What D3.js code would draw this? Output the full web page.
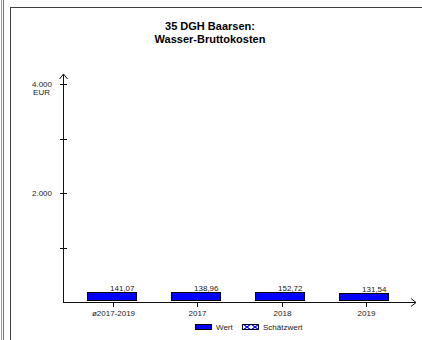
<!DOCTYPE html>
<html><head><meta charset="utf-8">
<script src="https://cdn.jsdelivr.net/npm/d3@7"></script>
<style>
html,body{margin:0;padding:0;background:#fff;}
svg{display:block;font-family:"Liberation Sans",Arial,sans-serif;}
</style></head>
<body>
<svg id="c" width="422" height="340"></svg>
<script>
const titleLines = ["35 DGH Baarsen:", "Wasser-Bruttokosten"];
const categories = ["ø2017-2019", "2017", "2018", "2019"];
const values = [141.07, 138.96, 152.72, 131.54];
const valueLabels = ["141,07", "138,96", "152,72", "131,54"];
const yTicks = [1000, 2000, 3000, 4000];
const yTickLabels = {2000: "2.000", 4000: "4.000"};
const unit = "EUR";
const legendItems = ["Wert", "Schätzwert"];

const svg = d3.select("#c");
const W = 422, H = 340;

// defs: hatch pattern for Schätzwert
const defs = svg.append("defs");
const pat = defs.append("pattern").attr("id","hatch").attr("patternUnits","userSpaceOnUse")
  .attr("width",8).attr("height",6).attr("x",243).attr("y",324);
pat.append("rect").attr("width",8).attr("height",6).attr("fill","#fff");
pat.append("path").attr("d","M0,0L8,6M8,0L0,6").attr("stroke","#0000ff").attr("stroke-width",1.2);

// frame
svg.append("line").attr("x1",1.5).attr("x2",1.5).attr("y1",0).attr("y2",H).attr("stroke","#999");
svg.append("line").attr("x1",3.5).attr("x2",3.5).attr("y1",0).attr("y2",H).attr("stroke","#777");
svg.append("line").attr("x1",10.5).attr("x2",10.5).attr("y1",7.5).attr("y2",H).attr("stroke","#404040");
svg.append("line").attr("x1",10).attr("x2",W).attr("y1",7.5).attr("y2",7.5).attr("stroke","#404040");

// title
svg.append("text").attr("x",210).attr("y",30).attr("text-anchor","middle")
  .attr("font-size",11).attr("font-weight","bold").text(titleLines[0]);
svg.append("text").attr("x",210).attr("y",43).attr("text-anchor","middle")
  .attr("font-size",11).attr("font-weight","bold").text(titleLines[1]);

const x0 = 63, xEnd = 416;
const y = d3.scaleLinear().domain([0,4000]).range([302,84]);
const x = d3.scaleBand().domain(categories).range([71,408]).paddingInner(0.42).paddingOuter(0.21);

const ink = "#111";
// y axis
svg.append("line").attr("x1",x0+0.5).attr("x2",x0+0.5).attr("y1",y(0)).attr("y2",74).attr("stroke",ink);
svg.append("path").attr("d",`M${x0+0.5-4},${79}L${x0+0.5},${74}L${x0+0.5+4},${79}`).attr("fill","none").attr("stroke",ink);
yTicks.forEach(t=>{
  svg.append("line").attr("x1",x0-3).attr("x2",x0+4).attr("y1",Math.round(y(t))+0.5).attr("y2",Math.round(y(t))+0.5).attr("stroke",ink);
  if(yTickLabels[t]) svg.append("text").attr("x",x0-11).attr("y",y(t)+3).attr("text-anchor","end")
    .attr("font-size",8).attr("fill","#222").text(yTickLabels[t]);
});
svg.append("text").attr("x",x0-11-2).attr("y",y(4000)+11).attr("text-anchor","end")
  .attr("font-size",8).attr("fill","#222").text(unit);

// x axis
svg.append("line").attr("x1",x0).attr("x2",xEnd).attr("y1",y(0)+0.5).attr("y2",y(0)+0.5).attr("stroke",ink);
svg.append("path").attr("d",`M${xEnd-5},${y(0)+0.5-4}L${xEnd},${y(0)+0.5}L${xEnd-5},${y(0)+0.5+4}`).attr("fill","none").attr("stroke",ink);
categories.forEach(c=>{
  const cx = Math.round(x(c)+x.bandwidth()/2)+0.5;
  svg.append("line").attr("x1",cx).attr("x2",cx).attr("y1",y(0)).attr("y2",y(0)+5).attr("stroke",ink);
  svg.append("text").attr("x",cx).attr("y",y(0)+14).attr("text-anchor","middle")
    .attr("font-size",8).attr("fill","#222").text(c);
});

// bars
categories.forEach((c,i)=>{
  const bx = Math.round(x(c))-1.5;
  const top = y(values[i]);
  const bottom = y(0)-1.5;
  svg.append("rect").attr("x",bx).attr("y",Math.round(top)-1.5).attr("width",Math.round(x.bandwidth()))
    .attr("height",bottom-(Math.round(top)-1.5)).attr("fill","#0000ff").attr("stroke","#000").attr("stroke-width",1);
  svg.append("text").attr("x",bx+Math.round(x.bandwidth())-2).attr("y",Math.round(top)-3.5).attr("text-anchor","end")
    .attr("font-size",8).attr("fill","#222").text(valueLabels[i]);
});

// legend
const ly = 324;
svg.append("rect").attr("x",195.5).attr("y",ly+0.5).attr("width",16).attr("height",5).attr("fill","#0000ff").attr("stroke","#000");
svg.append("text").attr("x",216).attr("y",ly+6).attr("font-size",8).attr("fill","#222").text(legendItems[0]);
svg.append("rect").attr("x",242.5).attr("y",ly+0.5).attr("width",16).attr("height",5).attr("fill","url(#hatch)").attr("stroke","#000020");
svg.append("text").attr("x",263).attr("y",ly+6).attr("font-size",8).attr("fill","#222").text(legendItems[1]);
</script>
</body></html>
